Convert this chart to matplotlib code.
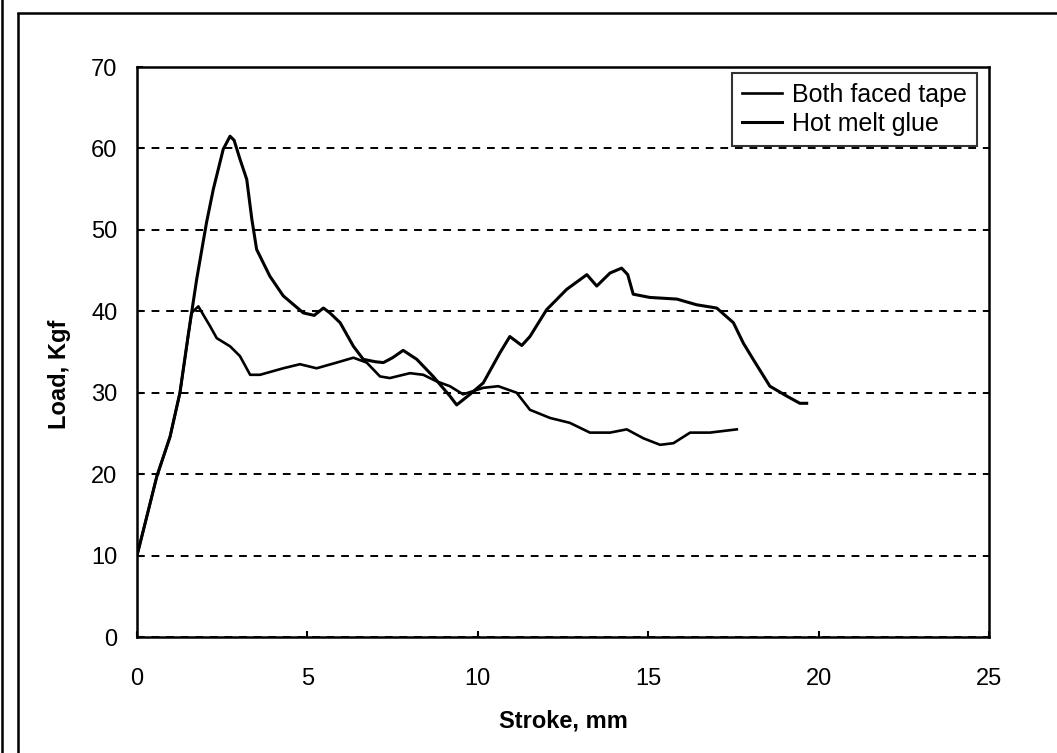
import matplotlib
matplotlib.use("Agg")
import matplotlib.pyplot as plt
from matplotlib.lines import Line2D

plt.rcParams['font.family'] = ['Liberation Sans', 'DejaVu Sans']

# Both faced tape
tape_x = [0, 0.3, 0.58, 0.97, 1.26, 1.6, 1.8, 2.14, 2.34, 2.73, 3.02, 3.32, 3.61, 4.29,
          4.78, 5.27, 5.86, 6.35, 6.74, 7.13, 7.42, 8.01, 8.4, 8.79, 9.18, 9.57, 10.16,
          10.6, 11.14, 11.53, 12.12, 12.7, 13.29, 13.88, 14.37, 14.86, 15.35, 15.74,
          16.23, 16.81, 17.6]
tape_y = [10, 15, 19.7, 24.6, 30, 39.8, 40.6, 38.2, 36.7, 35.7, 34.5, 32.2, 32.2, 33.0,
          33.5, 33.0, 33.7, 34.3, 33.7, 32.0, 31.8, 32.4, 32.2, 31.4, 30.8, 29.8, 30.6,
          30.8, 30.0, 27.9, 26.9, 26.3, 25.1, 25.1, 25.5, 24.4, 23.6, 23.8,
          25.1, 25.1, 25.5]

# Hot melt glue
glue_x = [0, 0.3, 0.58, 0.97, 1.26, 1.5, 1.75, 2.04, 2.24, 2.53, 2.73, 2.85, 3.02, 3.22,
          3.37, 3.51, 3.9, 4.29, 4.88, 5.2, 5.47, 5.66, 5.96, 6.35, 6.64, 7.0, 7.23, 7.5,
          7.81, 8.21, 8.69, 9.18, 9.38, 9.77, 10.16, 10.65, 10.94, 11.29, 11.53, 12.02,
          12.61, 13.2, 13.49, 13.88, 14.22, 14.4, 14.56, 15.05, 15.84, 16.42, 17.01,
          17.5, 17.79, 18.08, 18.57, 19.06, 19.45, 19.65]
glue_y = [10, 15, 19.7, 24.6, 30, 37, 43.9, 50.9, 55, 59.9, 61.5, 61, 58.7, 56.2,
          51.3, 47.6, 44.3, 41.9, 39.8, 39.5, 40.4, 39.8, 38.6, 35.7, 34.1, 33.8, 33.7, 34.3,
          35.2, 34.1, 32.0, 29.6, 28.5, 29.8, 31.2, 34.9, 36.9, 35.8, 36.9, 40.2,
          42.7, 44.5, 43.1, 44.7, 45.3, 44.5, 42.1, 41.7, 41.5, 40.8, 40.4,
          38.6, 36.1, 34.1, 30.8, 29.6, 28.7, 28.7]

x_ticks = [0, 5, 10, 15, 20, 25]
y_ticks = [0, 10, 20, 30, 40, 50, 60, 70]

fig = plt.figure(figsize=(10.57, 7.53), dpi=100)
ax = fig.add_axes([137/1057, 1 - 637/753, (989 - 137)/1057, (637 - 67)/753])

ax.plot(tape_x, tape_y, color='black', lw=1.9, label='Both faced tape')
ax.plot(glue_x, glue_y, color='black', lw=2.2, label='Hot melt glue')

ax.set_xlim(0, 25)
ax.set_ylim(0, 70)
ax.set_xticks(x_ticks)
ax.set_yticks(y_ticks)
ax.tick_params(direction='in', length=4, width=1.5, labelsize=17)
ax.tick_params(axis='x', pad=22)
ax.tick_params(axis='y', pad=14)

ax.grid(axis='y', color='black', lw=1.4, linestyle=(0, (4, 3.5)))
ax.set_axisbelow(True)
for s in ax.spines.values():
    s.set_linewidth(1.8)

ax.set_xlabel('Stroke, mm', fontsize=17, fontweight='bold')
ax.set_ylabel('Load, Kgf', fontsize=17, fontweight='bold')
ax.xaxis.set_label_coords(0.5, -0.128)
ax.yaxis.set_label_coords(-0.078, 0.46)

leg = ax.legend(loc='upper right', bbox_to_anchor=(977/1057, 1 - 73/753),
                bbox_transform=fig.transFigure, frameon=True, fancybox=False,
                fontsize=18, handlelength=1.6, handletextpad=0.4,
                labelspacing=0.2, borderpad=0.4, borderaxespad=0)
leg.get_frame().set_edgecolor('black')
leg.get_frame().set_linewidth(1.5)

# scanned page border
fig.add_artist(Line2D([18/1057, 18/1057], [0, 1 - 14/753], color='black', lw=1.8))
fig.add_artist(Line2D([18/1057, 1], [1 - 13/753, 1 - 13/753], color='black', lw=1.8))
fig.add_artist(Line2D([2/1057, 2/1057], [0, 1], color='black', lw=1.8))

fig.savefig('out.png', dpi=100)
